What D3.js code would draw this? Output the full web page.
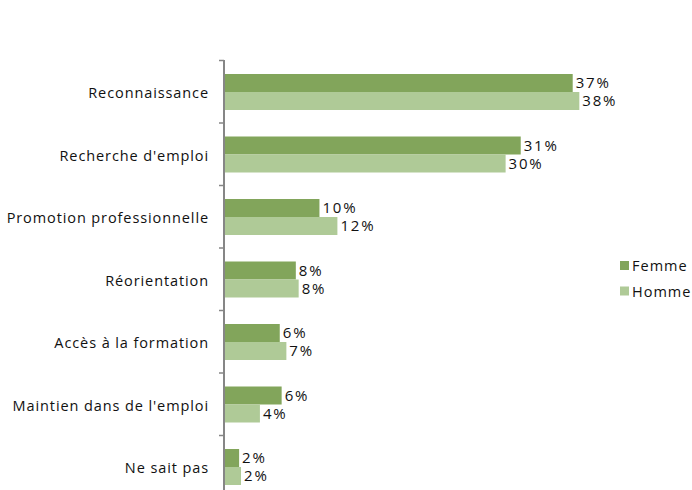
<!DOCTYPE html>
<html>
<head>
<meta charset="utf-8">
<script src="https://cdn.jsdelivr.net/npm/d3@7"></script>
<style>
  body { margin: 0; background: #fff; }
  text { font-family: "Open Sans", sans-serif; fill: #111; }
</style>
</head>
<body>
<div id="vis"></div>
<script>
// categories and series values (percent)
let categories = ['Reconnaissance', "Recherche d'emploi", 'Promotion professionnelle',
  'Réorientation', 'Accès à la formation', "Maintien dans de l'emploi", 'Ne sait pas'];
let femme = [36.9, 31.4, 10.1, 7.6, 5.9, 6.1, 1.6];
let homme = [37.6, 29.8, 12.0, 7.9, 6.6, 3.8, 1.8];
let seriesNames = ['Femme', 'Homme'];
let colors = ['#82a55b', '#afca97'];

let width = 692;
let height = 490;
let margin = { top: 60, left: 224 };

let svg = d3.select('#vis').append('svg')
  .attr('width', width)
  .attr('height', height);

// scales
let x = d3.scaleLinear().domain([0, 40]).range([margin.left, margin.left + 378]);
let y = d3.scaleBand().domain(categories).range([margin.top, margin.top + 62.5 * 7]);
let sub = d3.scaleBand().domain(seriesNames).range([14, 50]);

// bars, one group per category
let groups = svg.selectAll('.grp')
  .data(categories)
  .enter().append('g')
  .attr('class', 'grp')
  .attr('transform', d => 'translate(0,' + y(d) + ')');

[femme, homme].forEach(function (vals, s) {
  groups.append('rect')
    .attr('x', x(0))
    .attr('y', sub(seriesNames[s]))
    .attr('width', (d, i) => x(vals[i]) - x(0))
    .attr('height', sub.bandwidth())
    .attr('fill', colors[s]);

  groups.append('text')
    .attr('x', (d, i) => x(vals[i]) + 3)
    .attr('y', sub(seriesNames[s]) + sub.bandwidth() / 2)
    .attr('dy', '0.36em')
    .style('font-size', '15px')
    .style('letter-spacing', '1.8px')
    .text((d, i) => Math.round(vals[i]) + '%');
});

// axis line and ticks
svg.append('line')
  .attr('x1', x(0)).attr('x2', x(0))
  .attr('y1', margin.top).attr('y2', height)
  .attr('stroke', '#868686').attr('stroke-width', 2);

svg.selectAll('.tick')
  .data(categories)
  .enter().append('line')
  .attr('x1', x(0) - 5).attr('x2', x(0))
  .attr('y1', d => y(d) + 0.5).attr('y2', d => y(d) + 0.5)
  .attr('stroke', '#868686').attr('stroke-width', 1.5);

// category labels
svg.selectAll('.cat')
  .data(categories)
  .enter().append('text')
  .attr('x', 209)
  .attr('y', d => y(d) + y.bandwidth() / 2 + 2)
  .attr('dy', '0.36em')
  .attr('text-anchor', 'end')
  .style('font-size', '14.5px')
  .style('letter-spacing', '0.9px')
  .text(d => d);

// legend
let legend = svg.selectAll('.leg')
  .data(seriesNames)
  .enter().append('g')
  .attr('transform', (d, i) => 'translate(620,' + (261 + i * 25.5) + ')');
legend.append('rect')
  .attr('width', 9).attr('height', 9)
  .attr('fill', (d, i) => colors[i]);
legend.append('text')
  .attr('x', 12).attr('y', 5)
  .attr('dy', '0.36em')
  .style('font-size', '14.5px')
  .style('letter-spacing', '1px')
  .text(d => d);
</script>
</body>
</html>
